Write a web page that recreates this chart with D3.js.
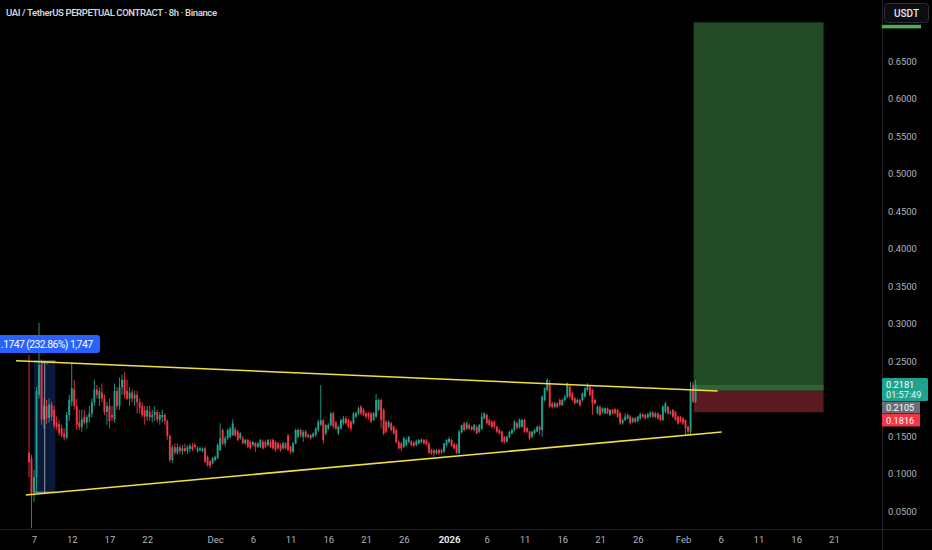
<!DOCTYPE html>
<html><head><meta charset="utf-8">
<script src="https://cdn.jsdelivr.net/npm/d3@7"></script>
<style>
html,body{margin:0;padding:0;background:#000;overflow:hidden;}
svg{display:block;font-family:Roboto,"Noto Sans",sans-serif;}
</style></head><body>
<svg id="c" width="932" height="550"></svg>
<script>
const title = "UAI / TetherUS PERPETUAL CONTRACT · 8h · Binance";
const firstCandle = "2025-11-06T08:00:00Z";
const candleHours = 8;

const open = [
.128,.120,.075,.095,.205,.245,.172,.190,.174,.192,
.185,.168,.166,.160,.153,.148,.178,.196,.212,.190,
.168,.162,.175,.168,.175,.180,.195,.212,.200,.208,
.200,.182,.190,.178,.172,.210,.190,.215,.225,.210,
.200,.208,.200,.205,.195,.190,.184,.176,.182,.175,
.178,.182,.172,.175,.178,.170,.150,.118,.135,.128,
.135,.130,.134,.130,.133,.137,.138,.130,.1313,.130,
.1335,.122,.116,.1135,.118,.1202,.1313,.158,.140,.147,
.149,.151,.1589,.156,.147,.147,.1402,.1447,.142,.138,
.1402,.1357,.1357,.142,.142,.138,.142,.1447,.142,.1402,
.138,.1335,.1402,.151,.1357,.129,.1402,.149,.158,.149,
.156,.149,.151,.149,.151,.158,.165,.171,.1535,.160,
.1647,.1802,.168,.1535,.160,.167,.1735,.1713,.169,.1669,
.1758,.1802,.189,.1847,.1802,.1802,.1802,.1713,.1758,.1847,
.198,.1847,.169,.1624,.1669,.1624,.158,.142,.1402,.1357,
.138,.142,.1424,.141,.138,.1402,.142,.1447,.144,.1402,
.131,.131,.127,.1315,.131,.129,.138,.142,.1447,.139,
.138,.127,.155,.1669,.160,.1647,.162,.158,.162,.1558,
.160,.1735,.178,.1713,.169,.169,.162,.158,.1558,.149,
.1424,.149,.1536,.158,.1669,.1613,.1624,.1713,.1602,.1558,
.149,.1536,.156,.1624,.158,.198,.2113,.2202,.1935,.189,
.1935,.198,.1913,.198,.2024,.2158,.2069,.2002,.1947,.198,
.198,.2024,.2113,.2158,.2113,.198,.1802,.189,.1824,.1802,
.1869,.178,.1847,.1856,.1847,.1802,.1669,.1713,.1735,.1758,
.1691,.1735,.170,.1735,.1791,.178,.1747,.1758,.1813,.1758,
.1802,.178,.1713,.1824,.1891,.1802,.1847,.1824,.1758,.1758,
.1735,.1713,.1624,.1558,.2180,.1958];

const high = [
.258,.125,.105,.215,.301,.252,.200,.198,.200,.196,
.190,.176,.172,.165,.160,.182,.205,.248,.225,.200,
.185,.185,.185,.178,.190,.200,.225,.218,.215,.220,
.205,.195,.200,.190,.220,.215,.228,.232,.235,.225,
.215,.212,.210,.210,.200,.195,.190,.190,.190,.185,
.190,.185,.182,.185,.180,.172,.152,.138,.140,.140,
.138,.138,.140,.138,.140,.140,.141,.136,.136,.135,
.136,.124,.118,.122,.124,.140,.167,.160,.150,.160,
.162,.172,.162,.158,.155,.150,.146,.146,.144,.143,
.142,.142,.146,.145,.144,.146,.146,.147,.144,.142,
.140,.142,.142,.153,.137,.142,.160,.160,.160,.158,
.158,.153,.153,.155,.162,.172,.218,.173,.166,.167,
.182,.1825,.170,.164,.173,.177,.177,.173,.171,.182,
.183,.189,.1913,.187,.182,.182,.182,.182,.206,.200,
.200,.187,.171,.171,.169,.164,.160,.144,.142,.149,
.147,.150,.145,.143,.145,.146,.147,.146,.146,.142,
.133,.132,.133,.133,.133,.141,.146,.149,.146,.141,
.140,.158,.165,.169,.169,.167,.164,.166,.164,.166,
.1813,.1813,.180,.173,.171,.171,.164,.160,.157,.150,
.151,.157,.160,.171,.169,.1735,.173,.173,.162,.157,
.157,.160,.164,.164,.204,.215,.227,.225,.196,.196,
.195,.200,.200,.205,.2213,.218,.209,.202,.200,.200,
.208,.215,.2205,.218,.213,.200,.191,.191,.188,.188,
.188,.186,.186,.187,.186,.182,.173,.1802,.1802,.178,
.175,.175,.177,.1813,.180,.180,.181,.183,.183,.182,
.181,.179,.191,.1958,.190,.184,.186,.183,.177,.177,
.175,.172,.164,.2224,.2224,.2247];

const low = [
.095,.027,.062,.075,.200,.165,.160,.166,.168,.170,
.160,.158,.150,.148,.144,.146,.170,.190,.185,.158,
.158,.155,.165,.160,.168,.175,.190,.200,.190,.195,
.178,.165,.160,.170,.168,.185,.185,.205,.200,.198,
.190,.195,.190,.180,.180,.175,.165,.170,.170,.168,
.170,.168,.165,.168,.165,.145,.115,.114,.125,.125,
.126,.125,.128,.126,.128,.130,.133,.128,.129,.128,
.114,.109,.107,.112,.116,.119,.130,.138,.136,.145,
.147,.150,.149,.143,.145,.139,.138,.134,.132,.136,
.129,.134,.134,.132,.134,.136,.134,.132,.129,.132,
.129,.132,.132,.130,.126,.127,.139,.147,.148,.142,
.147,.147,.145,.147,.149,.156,.163,.140,.151,.158,
.163,.160,.158,.151,.158,.165,.165,.160,.156,.165,
.174,.178,.178,.176,.173,.172,.167,.170,.174,.183,
.160,.151,.154,.160,.156,.152,.140,.132,.130,.134,
.136,.140,.136,.135,.136,.139,.140,.138,.137,.126,
.125,.1225,.125,.125,.126,.127,.136,.140,.135,.132,
.126,.126,.153,.156,.158,.158,.157,.156,.152,.154,
.158,.172,.165,.163,.160,.160,.154,.152,.141,.140,
.141,.147,.152,.156,.159,.160,.161,.154,.154,.145,
.147,.152,.155,.152,.149,.196,.209,.187,.187,.187,
.187,.189,.190,.196,.200,.200,.196,.192,.193,.189,
.196,.201,.209,.203,.1785,.192,.179,.177,.180,.179,
.179,.177,.179,.179,.174,.165,.165,.170,.172,.165,
.167,.167,.168,.172,.174,.172,.173,.175,.174,.174,
.172,.170,.170,.180,.178,.178,.174,.170,.165,.168,
.165,.1513,.151,.151,.194,.194];

const close = [
.115,.072,.095,.210,.245,.172,.190,.174,.192,.176,
.164,.162,.154,.151,.148,.178,.198,.214,.190,.165,
.162,.172,.168,.175,.180,.195,.212,.205,.210,.200,
.182,.190,.170,.175,.210,.190,.215,.225,.205,.200,
.208,.200,.205,.195,.188,.178,.176,.185,.175,.178,
.182,.172,.178,.178,.170,.150,.118,.135,.128,.135,
.130,.134,.130,.135,.137,.132,.1357,.1335,.1335,.133,
.116,.1113,.1102,.1202,.122,.138,.147,.140,.147,.158,
.160,.167,.151,.1447,.1535,.1402,.1447,.1357,.1335,.142,
.1357,.1402,.1447,.1335,.1357,.1447,.1357,.1335,.1313,.1335,
.1313,.1402,.1335,.1313,.129,.1402,.158,.158,.151,.155,
.149,.151,.147,.1535,.160,.169,.171,.1447,.1647,.1647,
.1802,.1625,.160,.1624,.1713,.1735,.167,.1624,.160,.1802,
.1802,.1869,.1802,.178,.1758,.1758,.169,.1802,.198,.198,
.1713,.1535,.156,.169,.158,.1535,.142,.1335,.1335,.147,
.1447,.149,.138,.137,.143,.1447,.145,.1402,.139,.128,
.127,.127,.131,.127,.128,.140,.1447,.146,.137,.1335,
.128,.1558,.1647,.158,.1669,.160,.159,.1647,.1536,.1647,
.1758,.1802,.1669,.1647,.162,.1625,.1558,.1536,.1424,.1424,
.149,.1558,.158,.169,.1613,.1713,.1713,.1558,.1558,.147,
.1558,.158,.162,.158,.2024,.2136,.2247,.189,.189,.1935,
.189,.1913,.198,.2024,.2202,.2024,.198,.1935,.198,.1913,
.2069,.2136,.218,.2047,.1935,.1935,.189,.178,.1869,.1869,
.1802,.1847,.1802,.1802,.1758,.1669,.1713,.1758,.178,.1669,
.1735,.1691,.1758,.1791,.1758,.1735,.1791,.1813,.1758,.1802,
.1735,.1713,.1891,.1935,.1802,.1824,.1758,.1713,.1669,.1691,
.1669,.1602,.1558,.2113,.1958,.2181];

// 0.2000 and 0.7000 are hidden behind the price labels in the reference
const priceTicks = [0.05,0.10,0.15,0.25,0.30,0.35,0.40,0.45,0.50,0.55,0.60,0.65];
const dateTicks = ["2025-11-07","2025-11-12","2025-11-17","2025-11-22","2025-12-01","2025-12-06",
  "2025-12-11","2025-12-16","2025-12-21","2025-12-26","2026-01-01","2026-01-06","2026-01-11",
  "2026-01-16","2026-01-21","2026-01-26","2026-02-01","2026-02-06","2026-02-11","2026-02-16","2026-02-21"];

const upperTrend = [["2025-11-04T15:00:00Z",0.2504],["2026-02-05T14:00:00Z",0.2100]];
const lowerTrend = [["2025-11-05T22:00:00Z",0.0713],["2026-02-06T03:00:00Z",0.1553]];

const rangeTimes = ["2025-11-07T00:00:00Z","2025-11-09T20:00:00Z"];
const rangePrices = [0.0750,0.2497];
const rangeLabel = ".1747 (232.86%) 1,747";

const positionTimes = ["2026-02-02T10:00:00Z","2026-02-19T15:00:00Z"];
const targetPrice = 0.7016, entryPrice = 0.2105, stopPrice = 0.1816, lastPrice = 0.2181;
const countdown = "01:57:49";

// ---------- layout ----------
const W = 932, H = 550, axisX = 882, axisY = 529;
const UP = "#1fa38e", DOWN = "#f23645", TXT = "#b2b5be";

const x = d3.scaleUtc()
  .domain([new Date("2025-11-07T00:00:00Z"), new Date("2026-02-01T00:00:00Z")])
  .range([34, 683]);
const y = d3.scaleLinear().domain([0.05, 0.65]).range([511, 61]);

const t0 = new Date(firstCandle).getTime();
const candles = close.map((c, i) => ({
  t: new Date(t0 + i * candleHours * 3600e3),
  o: open[i], h: high[i], l: low[i], c: c
}));

const svg = d3.select("#c");
svg.append("rect").attr("width", W).attr("height", H).attr("fill", "#000");
svg.append("defs").append("clipPath").attr("id", "clip")
  .append("rect").attr("x", 0).attr("y", 0).attr("width", axisX).attr("height", axisY);
const plot = svg.append("g").attr("clip-path", "url(#clip)");

// range measurement tool (behind candles)
const rx0 = x(new Date(rangeTimes[0])), rx1 = x(new Date(rangeTimes[1]));
const ryTop = y(rangePrices[1]), ryBot = y(rangePrices[0]);
plot.append("rect").attr("x", rx0).attr("y", ryTop).attr("width", rx1 - rx0)
  .attr("height", ryBot - ryTop).attr("fill", "#0b1a3a");

// position tool
const px0 = x(new Date(positionTimes[0])), px1 = x(new Date(positionTimes[1]));
plot.append("rect").attr("x", px0).attr("y", y(targetPrice)).attr("width", px1 - px0)
  .attr("height", y(entryPrice) - y(targetPrice)).attr("fill", "#224a25");
plot.append("rect").attr("x", px0).attr("y", y(lastPrice)).attr("width", px1 - px0)
  .attr("height", y(entryPrice) - y(lastPrice)).attr("fill", "#2f6534");
plot.append("rect").attr("x", px0).attr("y", y(entryPrice)).attr("width", px1 - px0)
  .attr("height", y(stopPrice) - y(entryPrice)).attr("fill", "#5a1a20");

// candles
const cg = plot.append("g");
cg.selectAll("line").data(candles).join("line")
  .attr("x1", d => x(d.t)).attr("x2", d => x(d.t))
  .attr("y1", d => y(d.h)).attr("y2", d => y(d.l))
  .attr("stroke", d => d.c >= d.o ? UP : DOWN).attr("stroke-width", 0.9);
cg.selectAll("rect").data(candles).join("rect")
  .attr("x", d => x(d.t) - 0.95).attr("width", 1.9)
  .attr("y", d => y(Math.max(d.o, d.c)))
  .attr("height", d => Math.max(1, Math.abs(y(d.o) - y(d.c))))
  .attr("fill", d => d.c >= d.o ? UP : DOWN);

// range tool outlines
const rmid = (rx0 + rx1) / 2;
plot.append("line").attr("x1", rx0).attr("x2", rx1).attr("y1", ryTop).attr("y2", ryTop)
  .attr("stroke", "#8a8d96").attr("stroke-width", 1.2);
plot.append("line").attr("x1", rx0).attr("x2", rx1).attr("y1", ryBot).attr("y2", ryBot)
  .attr("stroke", "#8a8d96").attr("stroke-width", 1.2);
plot.append("line").attr("x1", rmid).attr("x2", rmid).attr("y1", ryBot).attr("y2", ryTop)
  .attr("stroke", "#9598a1").attr("stroke-width", 1);
plot.append("path").attr("d", `M${rmid-3},${ryTop+3}L${rmid},${ryTop}L${rmid+3},${ryTop+3}`)
  .attr("fill", "none").attr("stroke", "#9598a1").attr("stroke-width", 1);

// trend lines
const line = d3.line().x(d => x(new Date(d[0]))).y(d => y(d[1]));
[upperTrend, lowerTrend].forEach(tl => {
  plot.append("path").attr("d", line(tl)).attr("fill", "none")
    .attr("stroke", "#f2e13c").attr("stroke-width", 1.6);
});

// range label
plot.append("rect").attr("x", -10).attr("y", 335).attr("width", 110).attr("height", 18)
  .attr("rx", 3).attr("fill", "#2962ff");
plot.append("text").attr("x", 1).attr("y", 347.6).attr("text-anchor", "start")
  .attr("fill", "#fff").attr("font-size", 10.4).attr("textLength", 92).text(rangeLabel);

// title
svg.append("text").attr("x", 6).attr("y", 15.8).attr("fill", "#d1d4dc")
  .attr("font-size", 9.5).attr("font-weight", 600).attr("textLength", 211).text(title);

// axes frame
svg.append("line").attr("x1", axisX + 0.5).attr("x2", axisX + 0.5).attr("y1", 0).attr("y2", H)
  .attr("stroke", "#202228");
svg.append("line").attr("x1", 0).attr("x2", W).attr("y1", axisY + 0.5).attr("y2", axisY + 0.5)
  .attr("stroke", "#202228");

// right axis
const ya = svg.append("g").attr("transform", `translate(${axisX},0)`)
  .call(d3.axisRight(y).tickValues(priceTicks).tickFormat(d3.format(".4f")).tickSize(0).tickPadding(6));
ya.select(".domain").remove();
ya.selectAll("text").attr("fill", TXT).attr("font-size", 9.4).attr("font-family", "Roboto, sans-serif");

// bottom axis
const isYear = dt => dt.getUTCDate() === 1 && dt.getUTCMonth() === 0;
const fmt = d => {
  const dt = new Date(d);
  if (isYear(dt)) return String(dt.getUTCFullYear());
  if (dt.getUTCDate() === 1) return d3.utcFormat("%b")(dt);
  return String(dt.getUTCDate());
};
const xa = svg.append("g").attr("transform", `translate(0,${axisY})`)
  .call(d3.axisBottom(x).tickValues(dateTicks.map(s => new Date(s + "T00:00:00Z")))
    .tickFormat(fmt).tickSize(0).tickPadding(7));
xa.select(".domain").remove();
xa.selectAll("text").attr("font-size", 9.5).attr("font-family", "Roboto, sans-serif")
  .attr("font-weight", d => isYear(d) ? 700 : 400)
  .attr("fill", d => isYear(d) ? "#e6e8ee" : TXT);

// price labels on axis
const lab = svg.append("g").attr("font-size", 9.2).attr("font-family", "Roboto, sans-serif");
lab.append("rect").attr("x", axisX).attr("y", y(targetPrice) + 2.5).attr("width", 39).attr("height", 3.6)
  .attr("fill", "#4caf50");
lab.append("rect").attr("x", axisX).attr("y", 378).attr("width", 46).attr("height", 23)
  .attr("rx", 1.5).attr("fill", UP);
lab.append("text").attr("x", axisX + 4).attr("y", 387.8).attr("fill", "#fff").text(d3.format(".4f")(lastPrice));
lab.append("text").attr("x", axisX + 4).attr("y", 397.6).attr("fill", "#e8f6f3").text(countdown);
lab.append("rect").attr("x", axisX).attr("y", 401.5).attr("width", 38).attr("height", 11.5)
  .attr("fill", "#6a6d78");
lab.append("text").attr("x", axisX + 4).attr("y", 411).attr("fill", "#fff").text(d3.format(".4f")(entryPrice));
lab.append("rect").attr("x", axisX).attr("y", 413.5).attr("width", 38).attr("height", 13)
  .attr("fill", DOWN);
lab.append("text").attr("x", axisX + 4).attr("y", 423.8).attr("fill", "#fff").text(d3.format(".4f")(stopPrice));

// currency button
svg.append("rect").attr("x", 884.5).attr("y", 3.5).attr("width", 44).attr("height", 19)
  .attr("rx", 3).attr("fill", "#0c0d10").attr("stroke", "#2a2e39");
svg.append("text").attr("x", 906.5).attr("y", 16.5).attr("text-anchor", "middle")
  .attr("fill", "#e6e8ee").attr("font-size", 10).attr("font-weight", 500)
  .attr("font-family", "Roboto, sans-serif").text("USDT");
</script>
</body></html>
